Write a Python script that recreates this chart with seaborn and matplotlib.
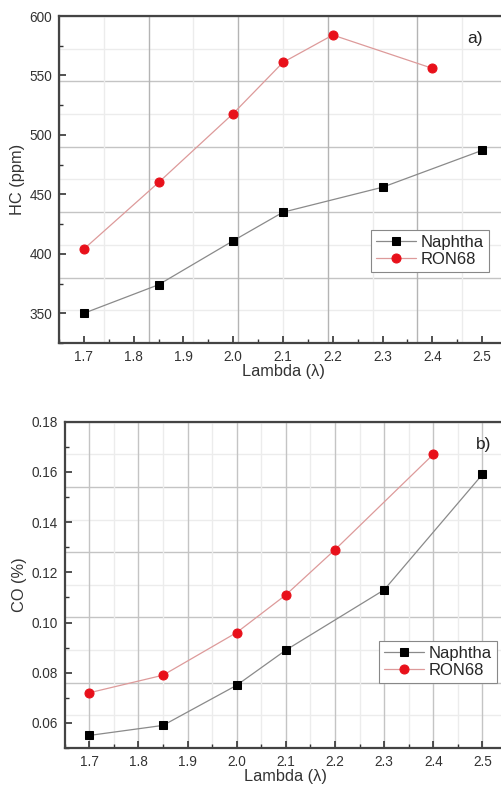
import numpy as np
import pandas as pd
import matplotlib
matplotlib.use('Agg')
import matplotlib.pyplot as plt
from matplotlib.ticker import MultipleLocator, AutoMinorLocator, FormatStrFormatter
import seaborn as sns

# Lambda values for each fuel
lambda_naphtha = [1.7, 1.85, 2.0, 2.1, 2.3, 2.5]
lambda_ron68 = [1.7, 1.85, 2.0, 2.1, 2.2, 2.4]

# a) HC emissions (ppm)
hc_naphtha = [350, 374, 411, 435, 456, 487]
hc_ron68 = [404, 460, 518, 561, 584, 556]

# b) CO emissions (%)
co_naphtha = [0.055, 0.059, 0.075, 0.089, 0.113, 0.159]
co_ron68 = [0.072, 0.079, 0.096, 0.111, 0.129, 0.167]

x_ticks = [1.7, 1.8, 1.9, 2.0, 2.1, 2.2, 2.3, 2.4, 2.5]

sns.set_theme(style='white')
plt.rcParams['font.family'] = ['Liberation Sans', 'DejaVu Sans']

W, H = 501, 786
fig = plt.figure(figsize=(W / 100, H / 100), dpi=100)


def px_axes(left, top, bottom, right=507):
    return fig.add_axes([left / W, 1 - bottom / H, (right - left) / W, (bottom - top) / H])


def draw_panel(ax, yn, yr, ylim, ymajor, ylabel, tag, tag_xy, legend_anchor, x_grid_ticks):
    ax.set_xlim(1.65, 2.55)
    ax.set_ylim(*ylim)

    # background grid (scanned page style)
    ylo, yhi = ylim
    yg = np.linspace(ylo, yhi, 11)
    for i, v in enumerate(yg):
        ax.axhline(v, color='#c4c4c4' if i % 2 == 0 else '#ececec', lw=1.0, zorder=0)
    if x_grid_ticks:
        for i, v in enumerate(np.arange(1.7, 2.56, 0.05)):
            ax.axvline(v, color='#c4c4c4' if i % 2 == 0 else '#ececec', lw=1.0, zorder=0)
    else:
        for i, v in enumerate(np.linspace(1.65, 2.55, 11)):
            ax.axvline(v, color='#b4b4b4' if i % 2 == 0 else '#ececec', lw=1.0, zorder=0)

    df_n = pd.DataFrame({'Lambda': lambda_naphtha, 'val': yn})
    df_r = pd.DataFrame({'Lambda': lambda_ron68, 'val': yr})
    sns.lineplot(data=df_n, x='Lambda', y='val', ax=ax, color='#8a8a8a', lw=0.9,
                 marker='s', markersize=5.5, markerfacecolor='black', markeredgecolor='black',
                 label='Naphtha', zorder=3)
    sns.lineplot(data=df_r, x='Lambda', y='val', ax=ax, color='#dd9a9a', lw=0.9,
                 marker='o', markersize=6.5, markerfacecolor='#e8101a', markeredgecolor='#e8101a',
                 label='RON68', zorder=3)

    ax.set_xticks(x_ticks)
    ax.xaxis.set_minor_locator(AutoMinorLocator(2))
    ax.yaxis.set_major_locator(MultipleLocator(ymajor))
    ax.yaxis.set_minor_locator(AutoMinorLocator(2))
    if ymajor < 1:
        ax.yaxis.set_major_formatter(FormatStrFormatter('%.2f'))
    ax.tick_params(which='major', direction='in', length=5, width=1.2, color='#333333',
                   labelsize=9.8, labelcolor='#333333', left=True, bottom=True, pad=5)
    ax.tick_params(which='minor', direction='in', length=3, width=1.0, color='#333333',
                   left=True, bottom=True)
    for side in ['left', 'bottom', 'top', 'right']:
        ax.spines[side].set_color('#444444')
        ax.spines[side].set_linewidth(1.6)

    ax.set_xlabel('Lambda (λ)', fontsize=11.8, color='#333333', labelpad=0)
    ax.set_ylabel(ylabel, fontsize=11.8, color='#333333', labelpad=3)
    ax.text(tag_xy[0], tag_xy[1], tag, transform=ax.transAxes, fontsize=12.5,
            color='#222222', ha='center', va='center')

    leg = ax.legend(loc='upper left', bbox_to_anchor=legend_anchor, fontsize=12,
                    frameon=True, fancybox=False, edgecolor='#888888', framealpha=1,
                    handlelength=2.4, handletextpad=0.3, borderpad=0.3,
                    labelspacing=0.1, borderaxespad=0)
    leg.get_frame().set_linewidth(0.8)


ax1 = px_axes(59, 16, 343)
draw_panel(ax1, hc_naphtha, hc_ron68, (325, 600), 50, 'HC (ppm)', 'a)',
           ((475 - 59) / (507 - 59), (343 - 39) / (343 - 16)),
           ((371 - 59) / (507 - 59), (343 - 230) / (343 - 16)), False)

ax2 = px_axes(64.7, 421.7, 748)
draw_panel(ax2, co_naphtha, co_ron68, (0.05, 0.18), 0.02, 'CO (%)', 'b)',
           ((484 - 64.7) / (507 - 64.7), (748 - 444) / (748 - 421.7)),
           ((379 - 64.7) / (507 - 64.7), (748 - 641) / (748 - 421.7)), True)

fig.savefig('out.png', dpi=100)
